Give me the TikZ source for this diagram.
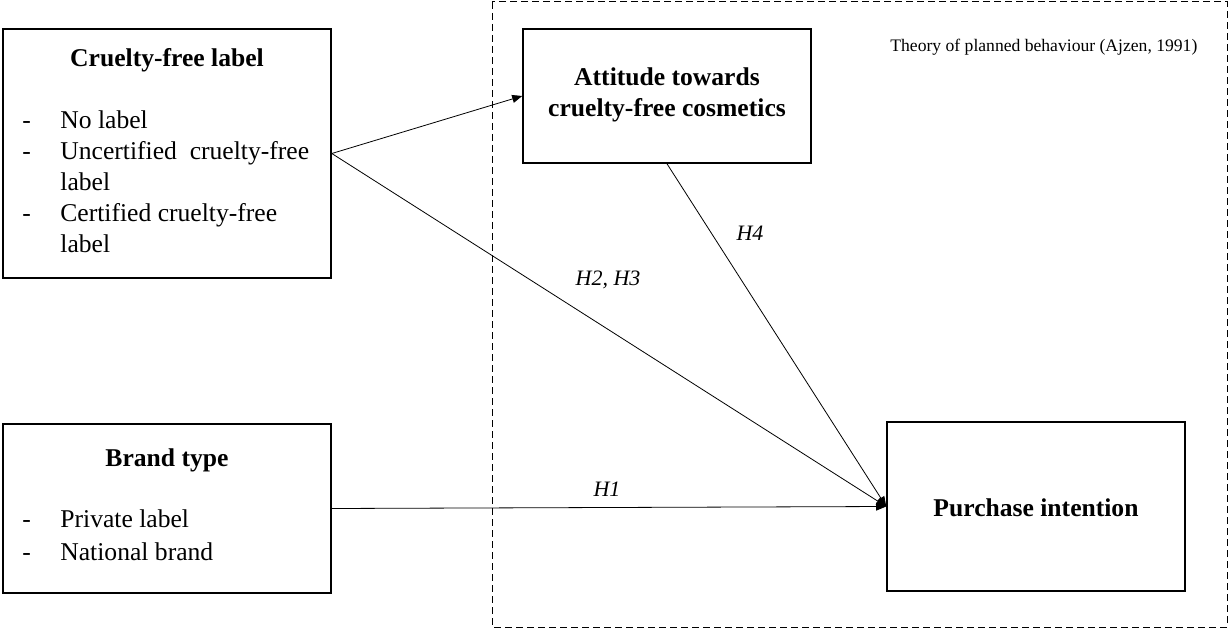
\documentclass[tikz,border=0pt]{standalone}
\usepackage{xcolor}
\usepackage{fontspec}
\setmainfont{Liberation Serif}
\usetikzlibrary{positioning,arrows.meta}

\begin{document}
\begin{tikzpicture}[x=0.5pt,y=-0.5pt,
    box/.style={draw, line width=0.8pt, inner sep=0pt},
    boxtext/.style={font=\fontsize{12.8}{15.5}\selectfont},
    boxtitle/.style={font=\fontsize{12.8}{15.5}\selectfont\bfseries},
    hyp/.style={font=\fontsize{11}{13}\selectfont\itshape},
    link/.style={line width=0.4pt, -{Triangle[length=5pt,width=4pt]}}]
                \useasboundingbox (0,0) rectangle (1229,630);
                % theory of planned behaviour frame
                \draw[line width=0.5pt, dash pattern=on 3.5pt off 2pt] (492,2) rectangle (1227,627);
                \node[anchor=west, inner sep=0pt, font=\fontsize{8.8}{10}\selectfont] (tpb) at (890,47) {Theory of planned behaviour (Ajzen, 1991)};

                % boxes
                \node[box, minimum width=164pt, minimum height=124.5pt] (cfl) at (167,153.5) {};
                \node[box, minimum width=144pt, minimum height=67pt] (att) at (667,96) {};
                \node[box, minimum width=164pt, minimum height=84.5pt] (brand) at (167,508.5) {};
                \node[box, minimum width=149pt, minimum height=84.5pt] (pi) at (1036,506.5) {};

                % box texts
                \node[boxtitle, anchor=base] (cfltitle) at (167,67) {Cruelty-free label};
                \node[boxtext, anchor=north west, inner sep=0pt] (cfllist) at (22,106) {%
                    \begin{tabular}{@{}p{19pt}@{}l@{}}
                    - & No label\\
                    - & Uncertified\ \ cruelty-free\\
                      & label\\
                    - & Certified cruelty-free\\
                      & label
                    \end{tabular}};
                \node[boxtitle, align=center] (atttext) at (667,95) {Attitude towards\\cruelty-free cosmetics};
                \node[boxtitle, anchor=base] (brandtitle) at (167,466) {Brand type};
                \node[boxtext, anchor=north west, inner sep=0pt] (brandlist) at (22,505) {%
                    \begin{tabular}{@{}p{19pt}@{}l@{}}
                    - & Private label\\[1pt]
                    - & National brand
                    \end{tabular}};
                \node[boxtitle] (pitext) at (1036,508) {Purchase intention};

                % connectors
                \draw[link] (cfl.east) -- (att.west);
                \draw[link] (cfl.east) -- (pi.west);
                \draw[link] (att.south) -- (pi.west);
                \draw[link] (brand.east) -- (pi.west);

                % hypotheses
                \node[hyp] (h1) at (607,489) {H1};
                \node[hyp] (h23) at (608,280) {H2, H3};
                \node[hyp] (h4) at (750,233) {H4};
            \end{tikzpicture}
\end{document}
